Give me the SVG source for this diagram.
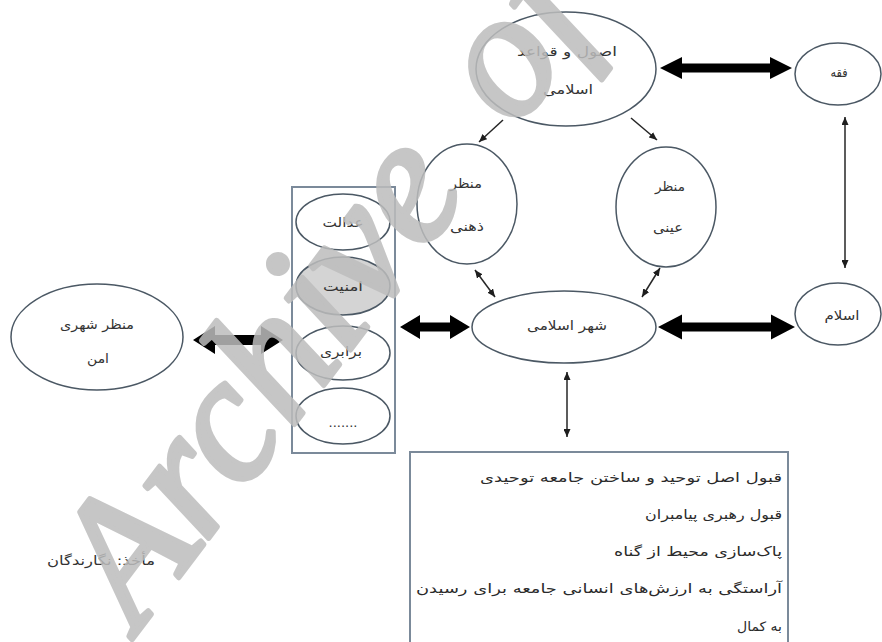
<svg xmlns="http://www.w3.org/2000/svg" width="882" height="642" viewBox="0 0 882 642">
<defs>
<marker id="ah" viewBox="0 0 8 7" refX="8" refY="3.5" markerWidth="8" markerHeight="7" markerUnits="userSpaceOnUse" orient="auto-start-reverse">
<path d="M0,0 L8,3.5 L0,7 z" fill="#1e1e1e"/>
</marker>
</defs>
<style>
.nd{fill:#fff;stroke:#4b5864;stroke-width:1.5}
.gr{fill:#d4d4d4;stroke:#4b5864;stroke-width:1.5}
.box{fill:#fff;stroke:#7b8a9a;stroke-width:2}
.t{font-family:"DejaVu Sans",sans-serif;font-size:13px;fill:#333;text-anchor:middle}
.bt{font-family:"DejaVu Sans",sans-serif;font-size:13px;fill:#2a2a2a;text-anchor:end}
.thin{stroke:#262626;stroke-width:1.5;fill:none}
.thick{fill:#000}
.wm{font-family:"Liberation Serif",serif;font-style:italic;font-size:180px;word-spacing:30px;fill:#bdbdbd;stroke:#bdbdbd;stroke-width:5;stroke-linejoin:round;opacity:0.85}
</style>
<rect width="882" height="642" fill="#fff"/>

<g id="connectors">
<path class="thick" d="M660 68 L682 57 L682 63.5 L770 63.5 L770 57 L792 68 L770 79 L770 72.5 L682 72.5 L682 79 Z"/>
<path class="thick" d="M400 327 L420 315 L420 322.5 L450 322.5 L450 315 L470 327 L450 339 L450 331.5 L420 331.5 L420 339 Z"/>
<path class="thick" d="M658 327 L682 314.5 L682 322.5 L771 322.5 L771 314.5 L795 327 L771 339.5 L771 331.5 L682 331.5 L682 339.5 Z"/>
<path class="thick" d="M193 340 L215 326 L215 335 L261 335 L261 326 L283 340 L261 354 L261 345 L215 345 L215 354 Z"/>
<line class="thin" x1="503" y1="120" x2="479" y2="142" marker-end="url(#ah)"/>
<line class="thin" x1="631" y1="118" x2="657" y2="140" marker-end="url(#ah)"/>
<line class="thin" x1="475" y1="270" x2="495" y2="297" marker-start="url(#ah)" marker-end="url(#ah)"/>
<line class="thin" x1="660" y1="268" x2="642" y2="297" marker-start="url(#ah)" marker-end="url(#ah)"/>
<line class="thin" x1="845" y1="117" x2="845" y2="268" marker-start="url(#ah)" marker-end="url(#ah)"/>
<line class="thin" x1="567" y1="372" x2="567" y2="437" marker-start="url(#ah)" marker-end="url(#ah)"/>
</g>

<g id="n-osul">
<ellipse class="nd" cx="566" cy="69" rx="90" ry="57"/>
<text class="t" x="567" y="56" textLength="100" lengthAdjust="spacingAndGlyphs">اصول و قواعد</text>
<text class="t" x="568" y="94" textLength="50" lengthAdjust="spacingAndGlyphs">اسلامی</text>
</g>
<g id="n-feqh">
<ellipse class="nd" cx="838" cy="74" rx="43" ry="31"/>
<text class="t" x="839" y="77" textLength="17" lengthAdjust="spacingAndGlyphs">فقه</text>
</g>
<g id="n-zehni">
<ellipse class="nd" cx="467" cy="204" rx="50" ry="60"/>
<text class="t" x="466" y="188" textLength="32" lengthAdjust="spacingAndGlyphs">منظر</text>
<text class="t" x="467" y="231" textLength="34" lengthAdjust="spacingAndGlyphs">ذهنی</text>
</g>
<g id="n-eyni">
<ellipse class="nd" cx="666" cy="207" rx="50" ry="60"/>
<text class="t" x="670" y="191" textLength="30" lengthAdjust="spacingAndGlyphs">منظر</text>
<text class="t" x="668" y="232" textLength="30" lengthAdjust="spacingAndGlyphs">عینی</text>
</g>
<g id="n-shahr">
<ellipse class="nd" cx="564" cy="327" rx="92" ry="36"/>
<text class="t" x="567" y="330" textLength="80" lengthAdjust="spacingAndGlyphs">شهر اسلامی</text>
</g>
<g id="n-eslam">
<ellipse class="nd" cx="838" cy="314" rx="43" ry="31"/>
<text class="t" x="842" y="320" textLength="35" lengthAdjust="spacingAndGlyphs">اسلام</text>
</g>
<g id="n-group">
<rect class="box" x="292" y="187" width="103" height="266"/>
<ellipse class="nd" cx="343" cy="222" rx="47" ry="28"/>
<text class="t" x="343" y="227" textLength="41" lengthAdjust="spacingAndGlyphs">عدالت</text>
<ellipse class="gr" cx="343" cy="286" rx="47" ry="29"/>
<text class="t" x="343" y="291" textLength="40" lengthAdjust="spacingAndGlyphs">امنیت</text>
<ellipse class="nd" cx="343" cy="353" rx="47" ry="27"/>
<text class="t" x="341" y="356" textLength="42" lengthAdjust="spacingAndGlyphs">برابری</text>
<ellipse class="nd" cx="343" cy="416" rx="47" ry="28"/>
<text class="t" x="343" y="427">.......</text>
</g>
<g id="n-amn">
<ellipse class="nd" cx="97" cy="337" rx="86" ry="53"/>
<text class="t" x="97" y="329" textLength="74" lengthAdjust="spacingAndGlyphs">منظر شهری</text>
<text class="t" x="98" y="363" textLength="22" lengthAdjust="spacingAndGlyphs">امن</text>
</g>
<g id="n-list">
<rect class="box" x="410" y="452" width="378" height="200"/>
<text class="bt" x="782" y="482" textLength="302" lengthAdjust="spacingAndGlyphs">قبول اصل توحید و ساختن جامعه توحیدی</text>
<text class="bt" x="782" y="519" textLength="137" lengthAdjust="spacingAndGlyphs">قبول رهبری پیامبران</text>
<text class="bt" x="782" y="556" textLength="168" lengthAdjust="spacingAndGlyphs">پاک‌سازی محیط از گناه</text>
<text class="bt" x="782" y="593" textLength="366" lengthAdjust="spacingAndGlyphs">آراستگی به ارزش‌های انسانی جامعه برای رسیدن</text>
<text class="bt" x="782" y="631" textLength="45" lengthAdjust="spacingAndGlyphs">به کمال</text>
</g>
<g id="caption">
<text class="t" x="101" y="565" textLength="108" lengthAdjust="spacingAndGlyphs">مأخذ: نگارندگان</text>
</g>
<g id="watermark">
<text class="wm" transform="translate(138,632) rotate(-53)">Archive of</text>
</g>
</svg>
